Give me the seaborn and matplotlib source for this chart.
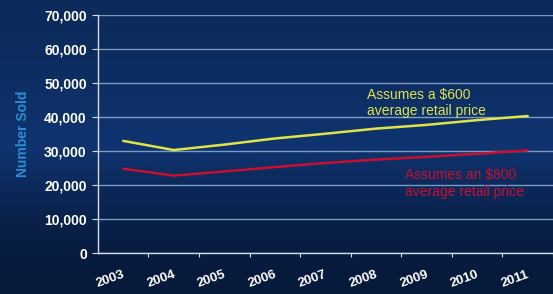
import numpy as np
import pandas as pd
import matplotlib
matplotlib.use("Agg")
import matplotlib.pyplot as plt
import seaborn as sns

years = ["2003", "2004", "2005", "2006", "2007", "2008", "2009", "2010", "2011"]
sold_600 = [33000, 30300, 31900, 33700, 35100, 36600, 37700, 39100, 40300]
sold_800 = [24800, 22800, 24000, 25300, 26500, 27500, 28300, 29200, 30200]
yticks = [0, 10000, 20000, 30000, 40000, 50000, 60000, 70000]

df = pd.DataFrame({"year": years * 2,
                   "sold": sold_600 + sold_800,
                   "price": ["600"] * 9 + ["800"] * 9})

sns.set_style("dark")
plt.rcParams['font.family'] = ['Liberation Sans', 'DejaVu Sans']

fig = plt.figure(figsize=(5.53, 2.94), dpi=100)

# background gradient
bg = fig.add_axes([0, 0, 1, 1])
grad = np.array([[0.0], [0.5], [1.0]])
cmap = matplotlib.colors.LinearSegmentedColormap.from_list(
    "bg", ["#0c2b5c", "#0f3470", "#07193a"])
bg.imshow(grad, aspect="auto", cmap=cmap, extent=[0, 1, 0, 1], interpolation="bicubic")
bg.axis("off")

ax = fig.add_axes([0.177, 0.139, 0.823, 0.81])
ax.patch.set_alpha(0)
x = np.arange(len(years))
pal = {"600": "#dfe34a", "800": "#c8102e"}
sns.lineplot(data=df, x="year", y="sold", hue="price", palette=pal,
             linewidth=1.8, ax=ax, legend=False, sort=False)

ax.set_ylim(0, 70000)
ax.set_xlim(-0.5, len(years) - 0.5)
ax.set_yticks(yticks)
ax.set_yticklabels([f"{v:,}" for v in yticks], color="white",
                   fontweight="bold", fontsize=10)
ax.set_xticks(x + 0.5, minor=False)
ax.set_xticklabels([])
for i, yr in enumerate(years):
    ax.text(i - 0.25, -0.065, yr, transform=ax.get_xaxis_transform(),
            rotation=20, ha="center", va="top", color="white",
            fontweight="bold", fontsize=9.5)
ax.grid(axis="y", color="#7d9cc4", linewidth=1)
ax.grid(axis="x", visible=False)
for s in ["top", "right"]:
    ax.spines[s].set_visible(False)
for s in ["left", "bottom"]:
    ax.spines[s].set_color("#d8dde8")
    ax.spines[s].set_linewidth(1)
ax.tick_params(axis="y", length=4, color="#d8dde8", left=True, pad=4)
ax.tick_params(axis="x", length=3, color="#d8dde8", bottom=True)
ax.set_xlabel("")
ax.set_ylabel("Number Sold", color="#2a8fd4", fontweight="bold",
              fontsize=10, labelpad=10)

ax.text(4.82, 39600, "Assumes a $600\naverage retail price", color="#dfe34a",
        fontsize=10, ha="left", va="bottom", linespacing=1.25)
ax.text(5.57, 16000, "Assumes an $800\naverage retail price", color="#c8102e",
        fontsize=10, ha="left", va="bottom", linespacing=1.25)

fig.savefig("out.png", dpi=100)
